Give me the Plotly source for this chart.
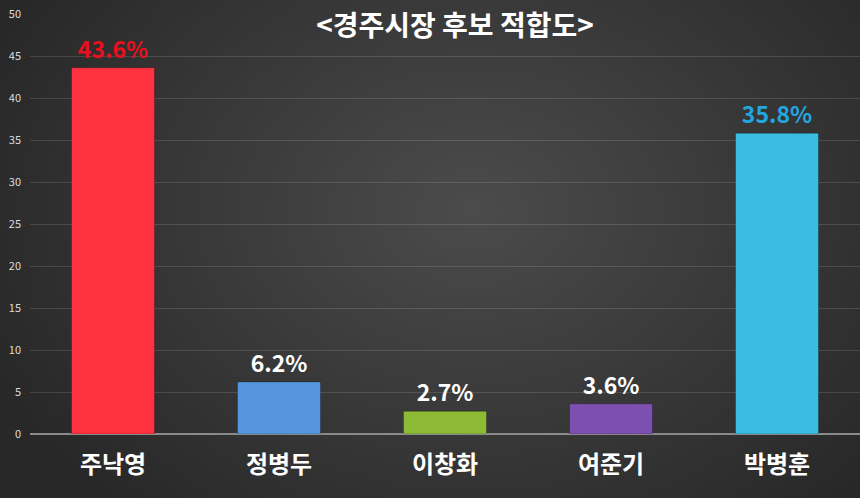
import base64
import math
import struct
import zlib

import plotly.graph_objects as go

categories = ["주낙영", "정병두", "이창화", "여준기", "박병훈"]
values = [43.6, 6.2, 2.7, 3.6, 35.8]
bar_colors = ["#FF3242", "#5596DE", "#8DBB36", "#7D4FAE", "#3BBCE3"]
label_colors = ["#E8101E", "#FFFFFF", "#FFFFFF", "#FFFFFF", "#22A6E0"]
tick_vals = [0, 5, 10, 15, 20, 25, 30, 35, 40, 45, 50]
title_text = "<경주시장 후보 적합도>"

FONT = "Noto Sans CJK KR"


def radial_png(w, h, inner=76, outer=40, cx=0.55, cy=0.42):
    rows = b""
    for j in range(h):
        row = bytearray([0])
        for i in range(w):
            dx = (i / (w - 1) - cx) * 1.0
            dy = (j / (h - 1) - cy) * 0.75
            d = min(1.0, math.sqrt(dx * dx + dy * dy) / 0.62)
            v = int(inner + (outer - inner) * d)
            row += bytes([v, v, v])
        rows += bytes(row)

    def chunk(t, data):
        c = struct.pack(">I", len(data)) + t + data
        return c + struct.pack(">I", zlib.crc32(t + data) & 0xFFFFFFFF)

    png = b"\x89PNG\r\n\x1a\n"
    png += chunk(b"IHDR", struct.pack(">IIBBBBB", w, h, 8, 2, 0, 0, 0))
    png += chunk(b"IDAT", zlib.compress(rows, 9))
    png += chunk(b"IEND", b"")
    return "data:image/png;base64," + base64.b64encode(png).decode()


W, H = 860, 498
ML, MR, MT, MB = 30, 0, 14, 64
PW, PH = W - ML - MR, H - MT - MB

fig = go.Figure()
fig.add_trace(go.Bar(
    x=categories, y=values, width=0.5,
    marker=dict(color=bar_colors, line=dict(color="rgba(0,0,0,0.25)", width=1)),
    text=[f"<b>{v}%</b>" for v in values],
    textposition="outside",
    textfont=dict(family=FONT, size=23, color=label_colors),
    cliponaxis=False,
))

fig.add_layout_image(
    source=radial_png(172, 100),
    xref="paper", yref="paper",
    x=-ML / PW, y=1 + MT / PH, sizex=W / PW, sizey=H / PH,
    xanchor="left", yanchor="top", sizing="stretch", layer="below",
)

fig.update_layout(
    width=W, height=H,
    margin=dict(l=ML, r=MR, t=MT, b=MB, autoexpand=False),
    paper_bgcolor="#383838",
    plot_bgcolor="rgba(0,0,0,0)",
    showlegend=False,
    bargap=0.5,
    title=dict(text=f"<b>{title_text}</b>", x=0.529, xanchor="center", y=0.947, yanchor="middle",
               font=dict(family=FONT, size=28, color="#FFFFFF")),
    font=dict(family=FONT),
)
fig.update_yaxes(range=[0, 50], tickvals=tick_vals, showgrid=True, gridcolor="rgba(255,255,255,0.13)", gridwidth=1,
                 zeroline=True, zerolinecolor="#8a8a8a", zerolinewidth=1.5, automargin=False,
                 tickfont=dict(family=FONT, size=11, color="#DDDDDD"), ticks="", ticklabelstandoff=8,
                 tickprefix="<b>", ticksuffix="</b>")
fig.update_xaxes(tickfont=dict(family=FONT, size=24, color="#FFFFFF"), ticks="", automargin=False,
                 tickprefix="<b>", ticksuffix="</b>", ticklabelstandoff=14)

fig.write_html("out.html", config={"displayModeBar": False},
               post_script="document.body.style.margin='0';document.body.style.overflow='hidden';")
